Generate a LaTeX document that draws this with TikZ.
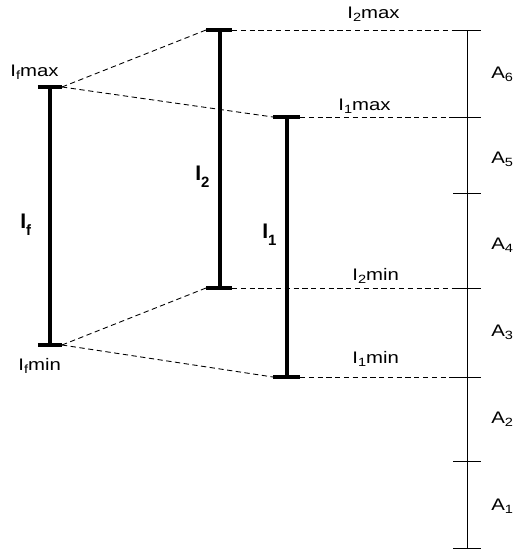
\documentclass[tikz,border=0pt]{standalone}
\usepackage{fontspec}
\setmainfont{Liberation Sans}
\newfontfamily\widesans[FakeStretch=1.22]{Liberation Sans}
\usetikzlibrary{positioning}
\newcommand{\lsub}[1]{\raisebox{-2.2pt}{\fontsize{6.8}{8}\selectfont #1}}
\newcommand{\bsub}[1]{\raisebox{-4.5pt}{\fontsize{8.5}{9}\selectfont #1}}

\begin{document}
\begin{tikzpicture}[x=0.2mm,y=-0.2mm,
  bar/.style={line width=2pt},
  guide/.style={line width=0.5pt,dash pattern=on 3pt off 2pt},
  axisline/.style={line width=0.5pt},
  lbl/.style={font=\widesans\fontsize{9.5}{10}\selectfont,inner sep=0pt,anchor=base west},
  big/.style={font=\bfseries\fontsize{12}{14}\selectfont,inner sep=0pt,anchor=base west}]
\useasboundingbox (0,0) rectangle (513,550);
% bars
\draw[bar] (38,87) -- (62,87) (50,87) -- (50,345) (38,345) -- (62,345);
\draw[bar] (206,30) -- (232,30) (220,30) -- (220,288) (206,288) -- (232,288);
\draw[bar] (273,117) -- (300,117) (287,117) -- (287,377) (273,377) -- (300,377);
\coordinate (fmax) at (62,87);
\coordinate (fmin) at (62,345);
\coordinate (twomaxL) at (206,30);
\coordinate (twomaxR) at (232,30);
\coordinate (twominL) at (206,288);
\coordinate (twominR) at (232,288);
\coordinate (onemaxL) at (273,117);
\coordinate (onemaxR) at (300,117);
\coordinate (oneminL) at (273,377);
\coordinate (oneminR) at (300,377);
% scale
\draw[axisline] (467,30) -- (467,548);
\foreach \y/\n in {30/a,117/b,193/c,288/d,377/e,461/f,548/g}{
  \draw[axisline] (453,\y) -- (481,\y);
  \coordinate (t\n) at (453,\y);
}
% dashed guides
\draw[guide] (fmax) -- (twomaxL);
\draw[guide] (fmax) -- (onemaxL);
\draw[guide] (fmin) -- (twominL);
\draw[guide] (fmin) -- (oneminL);
\draw[guide] (twomaxR) -- (ta);
\draw[guide] (onemaxR) -- (tb);
\draw[guide] (twominR) -- (td);
\draw[guide] (oneminR) -- (te);
% labels
\node[lbl] (lfmax) at (10,76) {I\lsub{f}max};
\node[lbl] (lfmin) at (18,370) {I\lsub{f}min};
\node[lbl] (l2max) at (347,18) {I\lsub{2}max};
\node[lbl] (l1max) at (338,110) {I\lsub{1}max};
\node[lbl] (l2min) at (352,280) {I\lsub{2}min};
\node[lbl] (l1min) at (352,363) {I\lsub{1}min};
\node[big] (If) at (20,228) {I\bsub{f}};
\node[big] (I2) at (195,180) {I\bsub{2}};
\node[big] (I1) at (262,238) {I\bsub{1}};
\foreach \i/\y in {6/78,5/163,4/249,3/336,2/423,1/510}
  \node[lbl] (A\i) at (491,\y) {A\lsub{\i}};
\end{tikzpicture}
\end{document}
